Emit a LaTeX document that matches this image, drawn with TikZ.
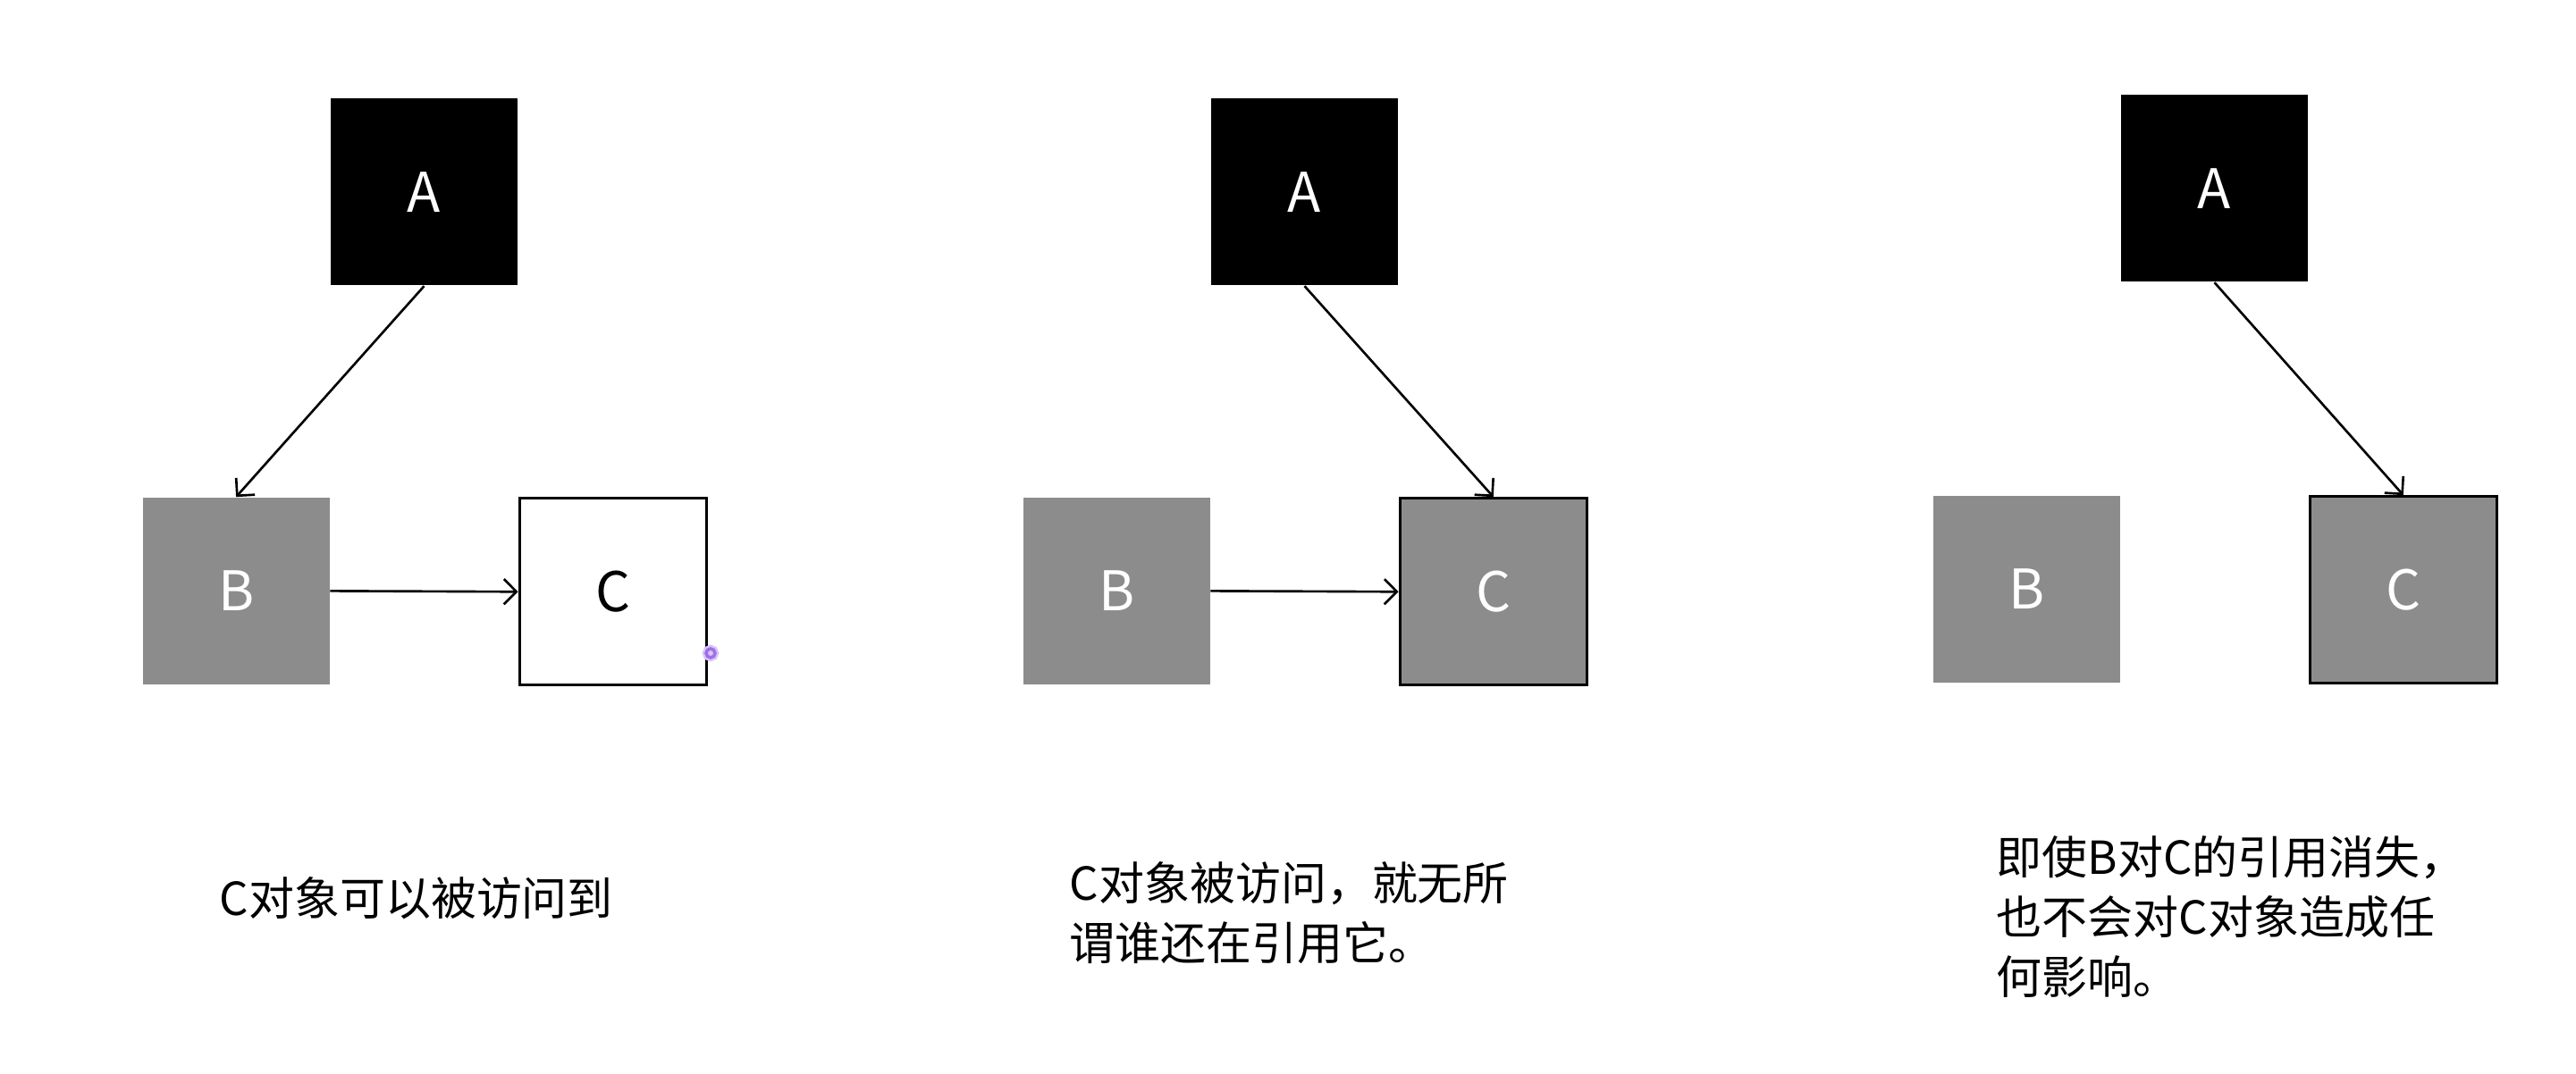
\documentclass[tikz,border=0pt]{standalone}
\usepackage{fontspec}
\setmainfont{Noto Sans CJK SC}
\usetikzlibrary{arrows.meta,positioning}
\definecolor{objBlack}{RGB}{0,0,0}
\definecolor{objGray}{RGB}{140,140,140}
\definecolor{cursorViolet}{RGB}{160,110,235}
\tikzset{
  objbox/.style={minimum size=2.09cm,inner sep=0pt,font=\fontsize{17.4}{20}\selectfont},
  rootobj/.style={objbox,fill=objBlack,text=white},
  grayobj/.style={objbox,fill=objGray,text=white},
  liveobj/.style={grayobj,draw=black,line width=0.9pt},
  whiteobj/.style={objbox,fill=white,draw=black,line width=0.9pt},
  ref/.style={-{Straight Barb[length=4pt,width=8pt]},line width=0.75pt},
  note/.style={anchor=north west,align=left,inner sep=0pt,font=\fontsize{14.5}{19}\selectfont}
}

\begin{document}
\begin{tikzpicture}
\useasboundingbox (0,0) rectangle (28.82,12.02);
% panel 1
\node[rootobj] (A1) at (4.745,9.87) {A};
\node[grayobj,below left=2.36cm and 0cm of A1] (B1) {B};
\node[whiteobj,below right=2.36cm and 0cm of A1] (C1) {C};
\draw[ref] (A1.south) -- (B1.north);
\draw[ref] (B1.east) -- (C1.west);
\draw[cursorViolet!40,line width=2.4pt] (7.95,4.71) circle (0.05);
\draw[cursorViolet,line width=1pt] (7.95,4.71) circle (0.05);
\node[note] (N1) at (2.45,2.21) {C对象可以被访问到};
% panel 2
\node[rootobj] (A2) at (14.595,9.87) {A};
\node[grayobj,below left=2.36cm and 0cm of A2] (B2) {B};
\node[liveobj,below right=2.36cm and 0cm of A2] (C2) {C};
\draw[ref] (A2.south) -- (C2.north);
\draw[ref] (B2.east) -- (C2.west);
\node[note] (N2) at (11.96,2.38) {C对象被访问，就无所\\谓谁还在引用它。};
% panel 3
\node[rootobj] (A3) at (24.775,9.91) {A};
\node[grayobj,below left=2.38cm and 0cm of A3] (B3) {B};
\node[liveobj,below right=2.38cm and 0cm of A3] (C3) {C};
\draw[ref] (A3.south) -- (C3.north);
\node[note] (N3) at (22.33,2.67) {即使B对C的引用消失，\\也不会对C对象造成任\\何影响。};
\end{tikzpicture}
\end{document}
